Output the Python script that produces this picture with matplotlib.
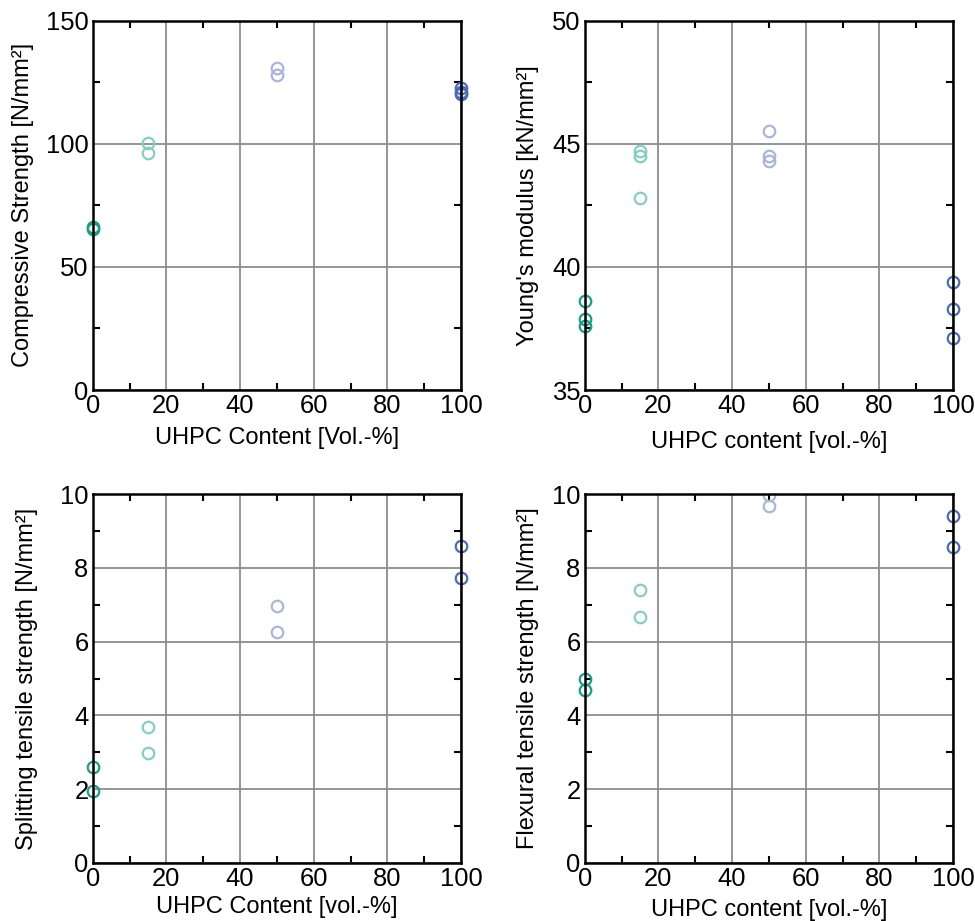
import matplotlib
matplotlib.use("Agg")
import matplotlib.pyplot as plt
from matplotlib.patches import Rectangle
from matplotlib.ticker import MultipleLocator

plt.rcParams['font.family'] = ['Liberation Sans', 'DejaVu Sans']

# UHPC content groups
x_groups = [0, 15, 50, 100]
colors = ['#1b9e87', '#80d1c0', '#a9b5de', '#4a6bba']

# Compressive strength [N/mm²]
comp_0 = [66.3, 65.3]
comp_15 = [100.2, 96.1]
comp_50 = [130.6, 127.8]
comp_100 = [122.5, 121.0, 120.3]

# Young's modulus [kN/mm²]
ym_0 = [38.6, 37.9, 37.6]
ym_15 = [44.7, 44.5, 42.8]
ym_50 = [45.5, 44.5, 44.3]
ym_100 = [39.4, 38.3, 37.1]

# Splitting tensile strength [N/mm²]
spl_0 = [2.59, 1.95]
spl_15 = [3.67, 2.99]
spl_50 = [6.98, 6.27]
spl_100 = [8.60, 7.74]

# Flexural tensile strength [N/mm²]
flx_0 = [5.00, 4.69]
flx_15 = [7.40, 6.67]
flx_50 = [9.98, 9.68]
flx_100 = [9.41, 8.58]

panels = [
    dict(data=[comp_0, comp_15, comp_50, comp_100], ylim=(0, 150), major=50, minor=25,
         xlabel='UHPC Content [Vol.-%]', ylabel='Compressive Strength [N/mm²]'),
    dict(data=[ym_0, ym_15, ym_50, ym_100], ylim=(35, 50), major=5, minor=2.5,
         xlabel='UHPC content [vol.-%]', ylabel="Young's modulus [kN/mm²]"),
    dict(data=[spl_0, spl_15, spl_50, spl_100], ylim=(0, 10), major=2, minor=1,
         xlabel='UHPC Content [vol.-%]', ylabel='Splitting tensile strength [N/mm²]'),
    dict(data=[flx_0, flx_15, flx_50, flx_100], ylim=(0, 10), major=2, minor=1,
         xlabel='UHPC content [vol.-%]', ylabel='Flexural tensile strength [N/mm²]'),
]

W, H = 975, 921
fig = plt.figure(figsize=(W / 100, H / 100), dpi=100)

# axes boxes in pixels: left, top, right, bottom
boxes = [(92.7, 20.7, 461, 390), (584.7, 20.7, 953, 390),
         (92.7, 494.3, 461, 862.7), (584.7, 494.3, 953, 862.7)]
xlabel_y = [438, 441.7, 906.7, 910]
ylabel_x = [23, 528, 27, 528]

for i, (p, b) in enumerate(zip(panels, boxes)):
    l, t, r, bt = b
    ax = fig.add_axes([l / W, 1 - bt / H, (r - l) / W, (bt - t) / H])
    clip = Rectangle((-0.05, 0), 1.1, 1, transform=ax.transAxes)
    for xg, vals, c in zip(x_groups, p['data'], colors):
        ln, = ax.plot([xg] * len(vals), vals, linestyle='none', marker='o', ms=8.3,
                      mfc='none', mec=c, mew=1.6, zorder=5)
        ln.set_clip_path(clip)
    ax.set_xlim(0, 100)
    ax.set_ylim(*p['ylim'])
    ax.xaxis.set_major_locator(MultipleLocator(20))
    ax.xaxis.set_minor_locator(MultipleLocator(10))
    ax.yaxis.set_major_locator(MultipleLocator(p['major']))
    ax.yaxis.set_minor_locator(MultipleLocator(p['minor']))
    ax.grid(True, which='major', color='#8c8c8c', linewidth=1.3)
    ax.set_axisbelow(True)
    ax.tick_params(which='both', direction='in', top=True, right=True,
                   labelsize=18.4, width=1.5, color='black', pad=3)
    ax.tick_params(which='major', length=0)
    ax.tick_params(which='minor', length=5)
    for s in ax.spines.values():
        s.set_linewidth(1.8)
        s.set_zorder(6)
    ax.set_xlabel(p['xlabel'], fontsize=17)
    ax.set_ylabel(p['ylabel'], fontsize=17)
    # place labels
    ax.xaxis.set_label_coords(0.5, (bt - xlabel_y[i]) / (bt - t), transform=ax.transAxes)
    ax.xaxis.label.set_va('center')
    ax.yaxis.set_label_coords((ylabel_x[i] - l) / (r - l), 0.5, transform=ax.transAxes)
    ax.yaxis.label.set_va('center')

fig.savefig('out.png', dpi=100)
